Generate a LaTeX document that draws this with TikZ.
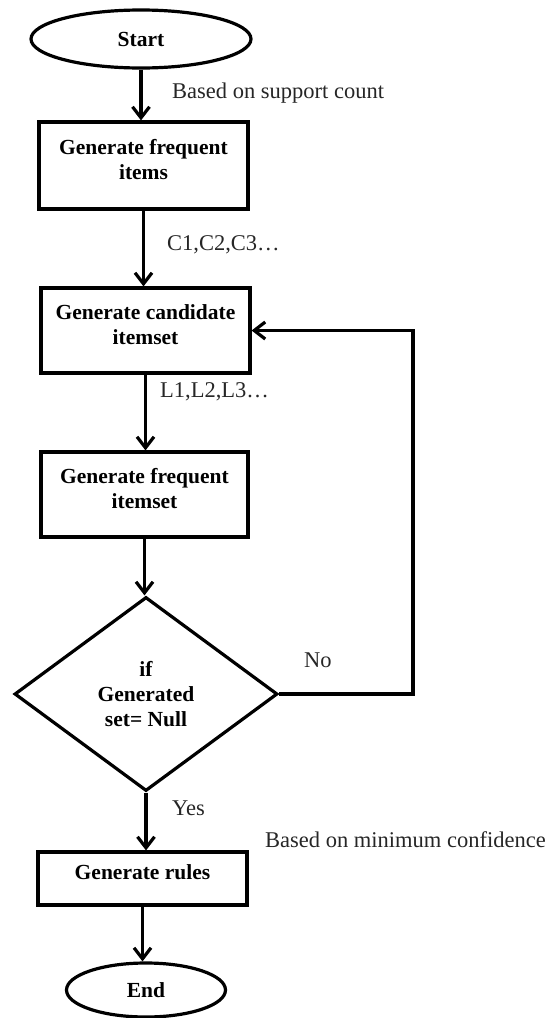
\documentclass[tikz,border=0pt]{standalone}
\usepackage{fontspec}
\setmainfont{Liberation Serif}
\usetikzlibrary{shapes.geometric,arrows.meta}
\newcommand{\lowpad}{\rule[-12pt]{0pt}{12pt}}
\begin{document}
\begin{tikzpicture}[x=1pt,y=-1pt,
  boldtext/.style={font=\bfseries\fontsize{21.5}{25}\selectfont},
  stepbox/.style={draw,line width=3.2pt,rectangle,minimum width=209pt,inner sep=0pt,align=center,boldtext},
  term/.style={draw,ellipse,line width=3.2pt,inner sep=0pt,boldtext},
  decide/.style={draw,diamond,line width=3.2pt,inner sep=0pt,align=center,minimum width=263pt,minimum height=194pt,boldtext},
  lbl/.style={anchor=west,inner sep=0pt,font=\fontsize{22.5}{26}\selectfont,text=black!85},
  arr/.style={line width=3.2pt,-{Straight Barb[length=11pt,width=17pt]}}
]
\useasboundingbox (0,0) rectangle (554,1018);

\node[term,minimum width=220pt,minimum height=58pt] (start) at (141,39) {Start};
\node[stepbox,minimum height=87pt] (b1) at (143.5,165.5) {Generate frequent\\items\lowpad};
\node[stepbox,minimum height=85pt] (b2) at (145.5,330.5) {Generate candidate\\itemset\lowpad};
\node[stepbox,minimum height=85pt,minimum width=207pt] (b3) at (144.5,494.5) {Generate frequent\\itemset\lowpad};
\node[decide] (dec) at (146,694) {if\\Generated\\set= Null};
\node[stepbox,minimum height=53pt] (b4) at (142.5,878.5) {Generate rules\lowpad};
\node[term,minimum width=159pt,minimum height=54pt] (end) at (146,990) {End};

\node[lbl] (l1) at (172,93) {Based on support count};
\node[lbl] (l2) at (167,245) {C1,C2,C3…};
\node[lbl] (l3) at (160,392) {L1,L2,L3…};
\node[lbl] (l4) at (304,660) {No};
\node[lbl] (l5) at (172,808) {Yes};
\node[lbl] (l6) at (265,840) {Based on minimum confidence};

\coordinate (lp) at (413,0);

\draw[arr] (start.south) -- (start.south |- b1.north);
\draw[arr] (b1.south) -- (b1.south |- b2.north);
\draw[arr] (b2.south) -- (b2.south |- b3.north);
\draw[arr] (b3.south) -- (b3.south |- dec.north);
\draw[arr] (dec.south) -- (dec.south |- b4.north);
\draw[arr] (b4.south) -- (b4.south |- end.north);
\draw[arr] (dec.east) -- (dec.east -| lp) |- (b2.east);
\end{tikzpicture}
\end{document}
